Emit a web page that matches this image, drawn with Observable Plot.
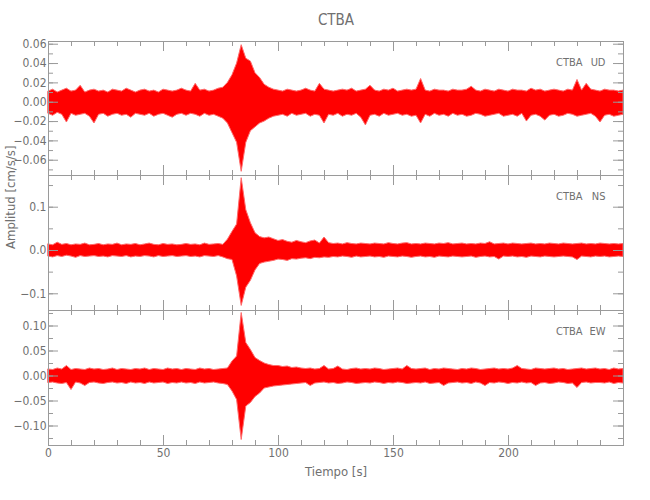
<!DOCTYPE html>
<html>
<head>
<meta charset="utf-8">
<script src="https://cdn.jsdelivr.net/npm/d3@7"></script>
<script src="https://cdn.jsdelivr.net/npm/@observablehq/plot@0.6"></script>
<style>
  body { margin: 0; background: #fff; }
  #chart { position: relative; width: 650px; height: 500px; }
  #chart svg { position: absolute; left: 0; top: 0; }
</style>
</head>
<body>
<div id="chart"></div>
<script>
// ---- text ----
const title = "CTBA";
const station = "CTBA";
const components = ["UD", "NS", "EW"];
const xLabel = "Tiempo [s]";
const yLabel = "Amplitud [cm/s/s]";

// ---- time axis ----
const timeStep = 2;          // seconds between envelope samples
const xDomain = [0, 250];
const xMajor = [0, 50, 100, 150, 200];
const xMinor = [0,10,20,30,40,50,60,70,80,90,100,110,120,130,140,150,160,170,180,190,200,210,220,230,240,250];

// ---- envelope of each trace (upper / lower), in units of 0.001 cm/s/s, one value every 2 s ----
const udHi = `11 13 10 12 14 11 12 17 10 12  13 11 12 10 13 12 11 14 12 10  12 13 11 12 10 13 12 11 12 14
 12 11 19 12 13 11 12 14 15 20  28 40 59 45 42 30 25 18 15 13  12 11 13 12 11 12 14 12 11 19
 13 12 11 12 13 12 14 11 12 13  17 12 11 13 12 14 11 12 13 12  13 24 12 11 13 12 12 11 13 12
 12 13 16 12 11 13 12 11 13 12  11 13 12 12 11 14 12 13 11 12  13 12 11 13 12 23 12 19 13 12  11 13 12 12 11 12`;
const udLo = `-12 -14 -11 -13 -21 -12 -14 -13 -12 -15  -22 -13 -12 -15 -13 -12 -14 -13 -16 -12  -13 -14 -12 -15 -13 -12 -14 -16 -13 -12
 -14 -12 -13 -15 -12 -14 -13 -15 -17 -22  -32 -42 -72 -42 -30 -26 -22 -20 -17 -15  -14 -13 -15 -12 -14 -13 -12 -15 -13 -14
 -22 -13 -14 -12 -15 -13 -14 -12 -16 -24  -14 -13 -15 -12 -14 -13 -12 -14 -13 -15  -14 -22 -13 -15 -12 -14 -13 -15 -12 -14
 -13 -15 -14 -12 -13 -15 -14 -13 -12 -15  -14 -13 -15 -12 -20 -14 -13 -15 -19 -14  -13 -15 -14 -12 -13 -15 -14 -13 -12 -15  -21 -14 -13 -15 -14 -13`;

const nsHi = `14 12 18 13 15 12 14 13 16 12  13 15 12 14 13 16 12 14 13 15  12 14 16 13 12 15 13 14 12 13
 15 13 14 12 16 13 14 15 13 25  43 60 167 93 63 40 31 28 30 26  22 24 20 18 22 19 17 21 23 16
 30 17 15 16 14 17 15 14 16 15  14 16 15 14 17 15 14 16 17 14  15 14 16 15 14 16 15 17 14 15
 16 14 15 14 16 15 19 14 15 16  14 16 15 14 15 16 14 15 14 16  15 14 16 15 14 15 16 14 15 14  16 15 14 15 14 15`;
const nsLo = `-14 -16 -13 -15 -12 -14 -17 -13 -15 -14  -13 -15 -14 -16 -13 -14 -15 -13 -16 -14  -15 -13 -14 -16 -13 -15 -14 -13 -15 -14
 -13 -15 -14 -16 -13 -14 -15 -13 -16 -20  -22 -60 -128 -86 -70 -46 -31 -28 -26 -24  -21 -22 -24 -20 -21 -19 -18 -20 -17 -18
 -16 -17 -15 -16 -14 -15 -17 -14 -16 -15  -14 -16 -15 -17 -14 -15 -16 -14 -15 -17  -15 -14 -16 -15 -17 -14 -15 -16 -14 -15
 -16 -15 -14 -17 -15 -14 -16 -15 -21 -14  -15 -14 -16 -15 -17 -14 -15 -16 -14 -15  -16 -15 -14 -15 -16 -22 -14 -15 -16 -14  -15 -14 -16 -15 -14 -15`;

const ewHi = `13 12 15 13 20 12 14 13 12 15  13 14 12 13 15 12 14 13 12 14  13 15 12 14 13 12 15 13 14 12
 14 13 12 15 13 14 12 13 14 15  29 39 126 66 52 36 30 25 22 20  20 18 19 16 17 15 14 15 13 14
 20 13 14 19 13 12 14 15 13 14  13 15 14 12 13 14 15 13 20 14  13 14 15 12 14 13 15 14 13 12
 14 13 15 14 12 13 14 15 13 14  13 15 20 14 13 12 15 14 13 14  15 13 14 12 13 14 15 13 14 15  13 14 12 15 13 14`;
const ewLo = `-14 -13 -15 -16 -14 -28 -13 -15 -20 -14  -13 -15 -16 -14 -13 -15 -14 -16 -13 -15  -14 -16 -13 -15 -14 -13 -16 -14 -15 -13
 -15 -14 -16 -13 -15 -14 -13 -15 -16 -18  -31 -48 -128 -61 -54 -42 -35 -25 -23 -21  -20 -19 -18 -17 -16 -15 -14 -20 -15 -14
 -13 -15 -14 -16 -15 -13 -14 -16 -15 -14  -15 -13 -14 -16 -14 -15 -13 -14 -16 -15  -14 -15 -13 -16 -15 -14 -20 -15 -14 -13
 -15 -14 -16 -13 -15 -20 -14 -15 -13 -14  -16 -14 -15 -13 -15 -14 -20 -15 -14 -16  -15 -13 -14 -16 -15 -24 -14 -13 -15 -14  -14 -15 -13 -16 -14 -15`;

// ---- y scales / ticks per panel ----
const udDomain = [-0.0758, 0.0628];
const udMajor = [-0.06, -0.04, -0.02, 0, 0.02, 0.04, 0.06];
const udMinor = [-0.07, -0.06, -0.05, -0.04, -0.03, -0.02, -0.01, 0, 0.01, 0.02, 0.03, 0.04, 0.05, 0.06];
const nsDomain = [-0.1386, 0.1732];
const nsMajor = [-0.1, 0, 0.1];
const nsMinor = [-0.1, -0.05, 0, 0.05, 0.1, 0.15];
const ewDomain = [-0.139, 0.131];
const ewMajor = [-0.10, -0.05, 0, 0.05, 0.10];
const ewMinor = [-0.125, -0.1, -0.075, -0.05, -0.025, 0, 0.025, 0.05, 0.075, 0.1, 0.125];

// ---- build ----
const parse = s => s.trim().split(/\s+/).map(v => +v / 1000);
const W = 650, H = 500, mL = 48, mR = 27;
const innerW = W - mL - mR;
const axisColor = "#9a9a9a";
const textColor = "#707070";
const font = "'Liberation Sans Narrow', 'DejaVu Sans Condensed', 'Liberation Sans', sans-serif";

const panels = [
  {comp: components[0], hi: parse(udHi), lo: parse(udLo), domain: udDomain, major: udMajor, minor: udMinor, fmt: d3.format(".2f"), top: 41, bottom: 325},
  {comp: components[1], hi: parse(nsHi), lo: parse(nsLo), domain: nsDomain, major: nsMajor, minor: nsMinor, fmt: d3.format(".1f"), top: 175, bottom: 190},
  {comp: components[2], hi: parse(ewHi), lo: parse(ewLo), domain: ewDomain, major: ewMajor, minor: ewMinor, fmt: d3.format(".2f"), top: 310, bottom: 55}
];

const chart = document.getElementById("chart");

panels.forEach((p, k) => {
  const data = p.hi.map((h, i) => ({t: i * timeStep, hi: h, lo: p.lo[i]}));
  const innerH = H - p.top - p.bottom;
  const tickStyle = {stroke: axisColor, strokeWidth: 1};
  const marks = [
    Plot.areaY(data, {x: "t", y1: "lo", y2: "hi", fill: "#ff0000", stroke: "#ff6a6a", strokeWidth: 1}),
    Plot.frame({stroke: axisColor}),
    // inward ticks, bottom & top
    Plot.tickX(xMajor, {...tickStyle, insetTop: innerH - 10}),
    Plot.tickX(xMinor, {...tickStyle, insetTop: innerH - 5}),
    Plot.tickX(xMajor, {...tickStyle, insetBottom: innerH - 10}),
    Plot.tickX(xMinor, {...tickStyle, insetBottom: innerH - 5}),
    // inward ticks, left & right
    Plot.tickY(p.major, {...tickStyle, insetRight: innerW - 10}),
    Plot.tickY(p.minor, {...tickStyle, insetRight: innerW - 5}),
    Plot.tickY(p.major, {...tickStyle, insetLeft: innerW - 10}),
    Plot.tickY(p.minor, {...tickStyle, insetLeft: innerW - 5}),
    Plot.axisY({ticks: p.major, tickSize: 0, tickPadding: 2, tickFormat: p.fmt, label: null, fontSize: 12}),
    Plot.text([station], {frameAnchor: "top-right", dx: -41, dy: 21, textAnchor: "end", lineAnchor: "middle", fontSize: 11}),
    Plot.text([p.comp], {frameAnchor: "top-right", dx: -18, dy: 21, textAnchor: "end", lineAnchor: "middle", fontSize: 11})
  ];
  if (k === 0) {
    marks.push(Plot.text([title], {frameAnchor: "top", dy: -21, lineAnchor: "middle", fontSize: 15}));
  }
  if (k === 1) {
    marks.push(Plot.text([yLabel], {frameAnchor: "left", dx: -38, dy: 6, rotate: -90, lineAnchor: "middle", fontSize: 13}));
  }
  if (k === 2) {
    marks.push(Plot.axisX({ticks: xMajor, tickSize: 0, tickPadding: 3, label: null, fontSize: 12}));
    marks.push(Plot.text([xLabel], {frameAnchor: "bottom", dy: 26, lineAnchor: "middle", fontSize: 13}));
  }
  const svg = Plot.plot({
    width: W, height: H,
    marginLeft: mL, marginRight: mR, marginTop: p.top, marginBottom: p.bottom,
    x: {domain: xDomain, axis: null},
    y: {domain: p.domain, axis: null},
    style: {background: "transparent", fontFamily: font, fontSize: "12px", color: textColor, overflow: "visible"},
    marks
  });
  chart.appendChild(svg);
});
</script>
</body>
</html>
